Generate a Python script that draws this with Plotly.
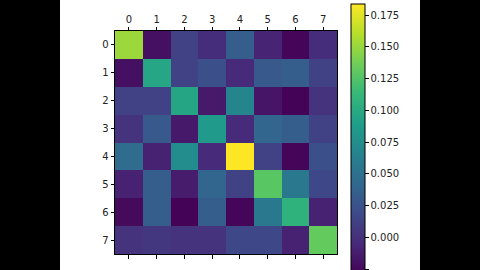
import plotly.graph_objects as go

labels = [0, 1, 2, 3, 4, 5, 6, 7]
z = [
    [0.152, -0.020, 0.013, -0.002, 0.034, -0.008, -0.026, -0.002],
    [-0.020, 0.097, 0.013, 0.023, -0.004, 0.030, 0.034, 0.013],
    [0.013, 0.013, 0.096, -0.015, 0.068, -0.017, -0.028, 0.002],
    [0.002, 0.030, -0.015, 0.086, -0.004, 0.040, 0.034, 0.013],
    [0.045, -0.009, 0.074, -0.004, 0.184, 0.013, -0.026, 0.023],
    [-0.009, 0.034, -0.013, 0.040, 0.013, 0.128, 0.056, 0.017],
    [-0.024, 0.034, -0.028, 0.034, -0.026, 0.056, 0.108, -0.009],
    [0.002, 0.006, 0.002, 0.002, 0.017, 0.017, -0.009, 0.132],
]
cbar_ticks = [-0.025, 0.0, 0.025, 0.05, 0.075, 0.1, 0.125, 0.15, 0.175]

W, H = 480, 270
L, R, T, B = 115, 337, 31, 254
pw, ph = R - L, B - T

def px_x(x):
    return (x - L) / pw

def px_y(y):
    return (B - y) / ph

fig = go.Figure(go.Heatmap(
    z=z, x=labels, y=labels, colorscale="Viridis", zmin=-0.0293, zmax=0.184,
    colorbar=dict(
        thickness=14, thicknessmode="pixels",
        len=271, lenmode="pixels",
        x=px_x(351.3), xanchor="left", y=px_y(3.7), yanchor="top",
        outlinecolor="black", outlinewidth=1,
        tickvals=cbar_ticks, tickformat=".3f", ticks="outside", ticklen=3.5,
        tickcolor="black", tickfont=dict(family="DejaVu Sans", size=10, color="#222"),
        xpad=0, ypad=0,
    ),
))

fig.update_xaxes(side="top", tickvals=labels, ticks="outside", ticklen=3.5,
                 tickcolor="black", showline=True, linecolor="black", linewidth=1,
                 mirror="ticks", showgrid=False, zeroline=False,
                 tickfont=dict(family="DejaVu Sans", size=10, color="#222"))
fig.update_yaxes(autorange="reversed", tickvals=labels, ticks="outside", ticklen=3.5,
                 tickcolor="black", showline=True, linecolor="black", linewidth=1,
                 mirror=True, showgrid=False, zeroline=False,
                 tickfont=dict(family="DejaVu Sans", size=10, color="#222"))

fig.add_shape(type="rect", xref="paper", yref="paper", x0=px_x(0), x1=px_x(60),
              y0=px_y(H + 5), y1=px_y(-5), fillcolor="black", line_width=0, layer="above")
fig.add_shape(type="rect", xref="paper", yref="paper", x0=px_x(420), x1=px_x(W + 5),
              y0=px_y(H + 5), y1=px_y(-5), fillcolor="black", line_width=0, layer="above")

fig.update_layout(width=W, height=H,
                  margin=dict(l=L, r=W - R, t=T, b=H - B, autoexpand=False),
                  paper_bgcolor="white", plot_bgcolor="white", showlegend=False)
fig.write_html("out.html")
